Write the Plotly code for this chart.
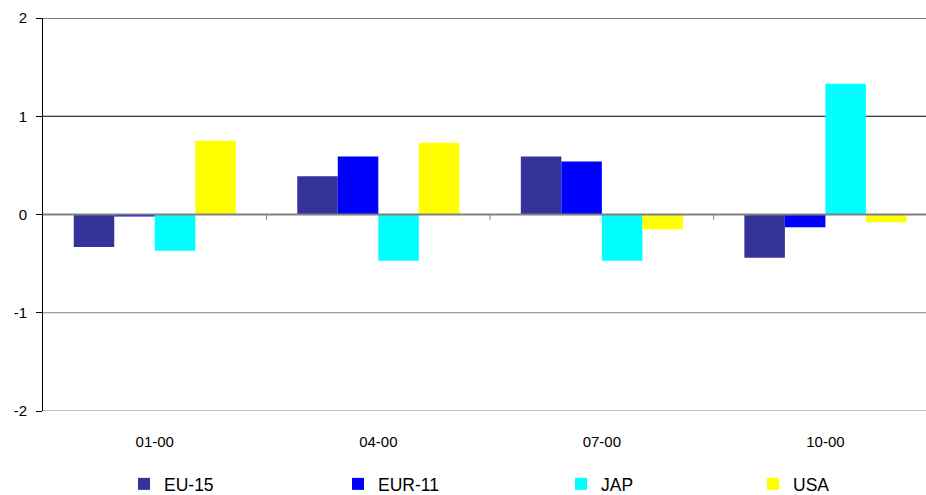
import plotly.graph_objects as go

categories = ["01-00", "04-00", "07-00", "10-00"]
eu15 = [-0.33, 0.39, 0.59, -0.44]
eur11 = [-0.02, 0.59, 0.54, -0.13]
jap = [-0.37, -0.47, -0.47, 1.33]
usa = [0.75, 0.73, -0.15, -0.08]

series = [
    ("EU-15", eu15, "#333399"),
    ("EUR-11", eur11, "#0000FF"),
    ("JAP", jap, "#00FFFF"),
    ("USA", usa, "#FFFF00"),
]
ytick_vals = [-2, -1, 0, 1, 2]

W, H = 926, 495
ml, mt, mb, mr = 43, 18, 84, 0
plot_w = W - ml - mr
plot_h = H - mt - mb

legend_px = [124, 338, 561, 753]  # left edges of legend entries (layout)

fig = go.Figure()
for i, (name, vals, color) in enumerate(series):
    lname = "legend" if i == 0 else f"legend{i+1}"
    fig.add_trace(go.Bar(
        x=list(range(len(categories))), y=vals, name=name,
        marker=dict(color=color, line=dict(width=0)),
        legend=lname, showlegend=True,
    ))

font = "Arial, 'Liberation Sans', sans-serif"
legend_y = (plot_h - (484 - mt)) / plot_h

layout_legends = {}
for i, px in enumerate(legend_px):
    lname = "legend" if i == 0 else f"legend{i+1}"
    layout_legends[lname] = dict(
        x=(px - ml) / plot_w, y=legend_y, xanchor="left", yanchor="middle",
        orientation="h", font=dict(family=font, size=17.5, color="#000"),
        bgcolor="rgba(0,0,0,0)", borderwidth=0,
        tracegroupgap=0, itemwidth=30,
    )

shapes = []
for v in ytick_vals:
    if v == 0:
        continue
    shapes.append(dict(
        type="line", xref="paper", yref="y", x0=0, x1=1, y0=v, y1=v,
        line=dict(color="#000000" if v > 0 else "#808080", width=1),
        layer="below",
    ))
# zero line
shapes.append(dict(type="line", xref="paper", yref="y", x0=0, x1=1, y0=0, y1=0,
                   line=dict(color="#808080", width=2), layer="above"))
# category separator tick marks on the zero line
for b in [0.5, 1.5, 2.5]:
    shapes.append(dict(type="line", xref="x", yref="y", x0=b, x1=b, y0=0, y1=-0.055,
                       line=dict(color="#808080", width=1)))

fig.update_layout(
    width=W, height=H, showlegend=True,
    margin=dict(l=ml, r=mr, t=mt, b=mb, pad=0, autoexpand=False),
    paper_bgcolor="white", plot_bgcolor="white",
    barmode="group", bargap=0.275, bargroupgap=0,
    font=dict(family=font, size=15, color="#000"),
    xaxis=dict(
        range=[-0.5, 3.45], tickmode="array",
        tickvals=list(range(len(categories))), ticktext=categories,
        showgrid=False, zeroline=False, showline=False, ticks="",
        tickfont=dict(size=15), ticklabelstandoff=20,
    ),
    yaxis=dict(
        range=[-2, 2], tickmode="array", tickvals=ytick_vals,
        ticktext=[str(v) for v in ytick_vals],
        showgrid=False, zeroline=False, showline=True, linecolor="#000", linewidth=1,
        ticks="outside", ticklen=6, tickcolor="#000", tickwidth=1,
        tickfont=dict(size=15), ticklabelstandoff=6,
    ),
    shapes=shapes,
    **layout_legends,
)

fig.write_html("out.html")
